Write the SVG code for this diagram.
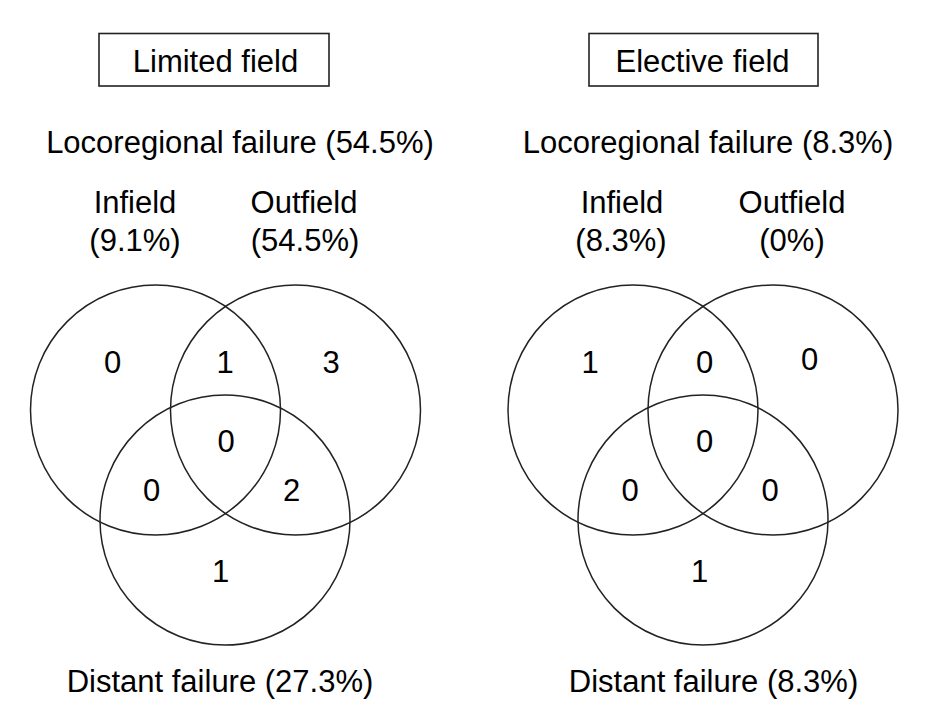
<svg xmlns="http://www.w3.org/2000/svg" width="945" height="722" viewBox="0 0 945 722">
<style>
text{font-family:"Liberation Sans",Arial,sans-serif;font-size:31px;fill:#000;text-anchor:middle}
.c{fill:none;stroke:#222;stroke-width:1.5}
.b{fill:#fff;stroke:#222;stroke-width:1.6}
</style>
<rect width="945" height="722" fill="#fff"/>
<g id="limited">
<g id="limited-title"><rect class="b" x="99" y="33.5" width="230" height="52.5"/><text x="215.5" y="72">Limited field</text></g>
<text x="240" y="153">Locoregional failure (54.5%)</text>
<text x="135" y="213">Infield</text>
<text x="135" y="251">(9.1%)</text>
<text x="304" y="213">Outfield</text>
<text x="305" y="251">(54.5%)</text>
<g id="limited-circles">
<circle id="l-infield" class="c" cx="155.5" cy="410" r="125"/>
<circle id="l-outfield" class="c" cx="295.5" cy="410" r="125"/>
<circle id="l-distant" class="c" cx="225" cy="520" r="125"/>
</g>
<text x="112.5" y="373">0</text>
<text x="225" y="373">1</text>
<text x="331" y="373">3</text>
<text x="226" y="451.5">0</text>
<text x="151.5" y="500.5">0</text>
<text x="291.5" y="500.5">2</text>
<text x="220.5" y="581.5">1</text>
<text x="220" y="691.5">Distant failure (27.3%)</text>
</g>
<g id="elective">
<g id="elective-title"><rect class="b" x="589" y="33.5" width="229" height="52.5"/><text x="702.5" y="72">Elective field</text></g>
<text x="708" y="153">Locoregional failure (8.3%)</text>
<text x="622" y="213">Infield</text>
<text x="621" y="251">(8.3%)</text>
<text x="792" y="213">Outfield</text>
<text x="792" y="251">(0%)</text>
<g id="elective-circles">
<circle id="e-infield" class="c" cx="633" cy="410" r="125"/>
<circle id="e-outfield" class="c" cx="773" cy="410" r="125"/>
<circle id="e-distant" class="c" cx="703" cy="520" r="125"/>
</g>
<text x="590" y="373">1</text>
<text x="704.5" y="373">0</text>
<text x="809.5" y="370">0</text>
<text x="704.5" y="451.5">0</text>
<text x="630" y="500.5">0</text>
<text x="770" y="500.5">0</text>
<text x="699.5" y="581.5">1</text>
<text x="713.5" y="691.5">Distant failure (8.3%)</text>
</g>
</svg>
